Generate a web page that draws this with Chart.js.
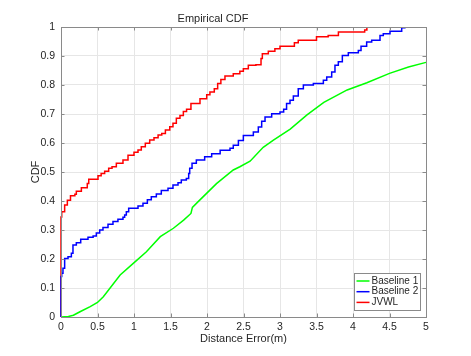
<!DOCTYPE html>
<html>
<head>
<meta charset="utf-8">
<script src="https://cdn.jsdelivr.net/npm/chart.js@4/dist/chart.umd.min.js"></script>
<style>
  html, body { margin: 0; padding: 0; background: #fff; }
  #cdf-chart { display: block; }
</style>
</head>
<body>
<canvas id="cdf-chart" width="471" height="356"></canvas>
<script>
/** Axis ticks */
const xTicks = [0, 0.5, 1, 1.5, 2, 2.5, 3, 3.5, 4, 4.5, 5];
const yTicks = [0, 0.1, 0.2, 0.3, 0.4, 0.5, 0.6, 0.7, 0.8, 0.9, 1];

/** Baseline 1 (green) */
const baseline1X = [0, 0.1, 0.17, 0.26, 0.4, 0.5, 0.58, 0.67, 0.81, 0.99, 1.17, 1.36, 1.54, 1.68, 1.78, 1.8, 1.9, 2.13, 2.36, 2.45, 2.59, 2.77, 2.91, 3.14, 3.37, 3.6, 3.92, 4.19, 4.5, 4.76, 5];
const baseline1Y = [0, 0.002, 0.006, 0.018, 0.036, 0.05, 0.07, 0.099, 0.145, 0.185, 0.225, 0.277, 0.306, 0.334, 0.357, 0.378, 0.403, 0.46, 0.507, 0.518, 0.537, 0.585, 0.61, 0.648, 0.697, 0.74, 0.783, 0.808, 0.84, 0.862, 0.878];

/** Baseline 2 (blue) step points */
const baseline2X = [0, 0, 0.01, 0.027, 0.05, 0.096, 0.142, 0.164, 0.21, 0.27, 0.37, 0.44, 0.484, 0.53, 0.575, 0.644, 0.712, 0.78, 0.849, 0.872, 0.895, 0.927, 1.055, 1.123, 1.183, 1.237, 1.306, 1.374, 1.466, 1.534, 1.603, 1.648, 1.717, 1.749, 1.763, 1.795, 1.854, 1.968, 2.064, 2.18, 2.315, 2.36, 2.43, 2.498, 2.635, 2.703, 2.749, 2.795, 2.886, 3.0, 3.05, 3.09, 3.137, 3.183, 3.25, 3.32, 3.457, 3.594, 3.64, 3.708, 3.753, 3.799, 3.854, 3.936, 4.073, 4.11, 4.187, 4.256, 4.37, 4.415, 4.507, 4.667, 4.71];
const baseline2Y = [0, 0.14, 0.151, 0.168, 0.202, 0.208, 0.22, 0.248, 0.256, 0.268, 0.275, 0.279, 0.29, 0.3, 0.309, 0.32, 0.329, 0.337, 0.344, 0.352, 0.363, 0.375, 0.383, 0.392, 0.404, 0.415, 0.424, 0.436, 0.444, 0.455, 0.463, 0.472, 0.478, 0.495, 0.513, 0.53, 0.541, 0.553, 0.563, 0.575, 0.582, 0.592, 0.609, 0.626, 0.638, 0.655, 0.675, 0.69, 0.701, 0.707, 0.716, 0.736, 0.747, 0.762, 0.787, 0.8, 0.805, 0.816, 0.828, 0.845, 0.868, 0.88, 0.902, 0.911, 0.919, 0.934, 0.948, 0.954, 0.971, 0.977, 0.985, 0.997, 1.0];

/** JVWL (red) step points */
const jvwlX = [0, 0, 0.01, 0.05, 0.087, 0.13, 0.19, 0.21, 0.279, 0.36, 0.38, 0.507, 0.55, 0.598, 0.653, 0.699, 0.758, 0.849, 0.918, 1.0, 1.055, 1.1, 1.155, 1.215, 1.274, 1.33, 1.38, 1.43, 1.49, 1.534, 1.58, 1.63, 1.676, 1.72, 1.78, 1.904, 1.996, 2.04, 2.1, 2.146, 2.19, 2.246, 2.36, 2.45, 2.498, 2.566, 2.67, 2.74, 2.758, 2.84, 2.93, 3.0, 3.197, 3.25, 3.5, 3.66, 3.8, 4.16, 4.19];
const jvwlY = [0, 0.345, 0.363, 0.386, 0.403, 0.418, 0.423, 0.434, 0.446, 0.46, 0.475, 0.487, 0.495, 0.503, 0.513, 0.518, 0.53, 0.541, 0.558, 0.568, 0.576, 0.587, 0.599, 0.61, 0.618, 0.628, 0.633, 0.645, 0.656, 0.668, 0.685, 0.695, 0.709, 0.716, 0.736, 0.753, 0.766, 0.776, 0.787, 0.805, 0.819, 0.831, 0.839, 0.847, 0.856, 0.868, 0.87, 0.891, 0.908, 0.916, 0.925, 0.934, 0.946, 0.954, 0.966, 0.971, 0.983, 0.99, 1.0];

const FONT = '"Liberation Sans", Arial, Helvetica, sans-serif';
const TEXT_COLOR = '#262626';
const AXIS_COLOR = '#8a8a8a';

const toPoints = (xs, ys) => xs.map((x, i) => ({x, y: ys[i]}));

/** Tick label like MATLAB prints it: 0, 0.5, 1 */
const tickLabel = (value) => String(Math.round(value * 10) / 10);

/** Box around the axes plus MATLAB-style inward ticks */
const axesBoxPlugin = {
  id: 'axesBox',
  afterDraw: (chart) => {
    const {ctx, chartArea: area, scales} = chart;
    const tickLen = 3.5;
    ctx.save();
    ctx.strokeStyle = AXIS_COLOR;
    ctx.lineWidth = 1;
    ctx.beginPath();
    xTicks.forEach(v => {
      const px = Math.round(scales.x.getPixelForValue(v)) + 0.5;
      ctx.moveTo(px, area.bottom);
      ctx.lineTo(px, area.bottom - tickLen);
      ctx.moveTo(px, area.top);
      ctx.lineTo(px, area.top + tickLen);
    });
    yTicks.forEach(v => {
      const py = Math.round(scales.y.getPixelForValue(v)) + 0.5;
      ctx.moveTo(area.left, py);
      ctx.lineTo(area.left + tickLen, py);
      ctx.moveTo(area.right, py);
      ctx.lineTo(area.right - tickLen, py);
    });
    ctx.stroke();
    ctx.strokeRect(Math.round(area.left) + 0.5, Math.round(area.top) + 0.5,
      Math.round(area.right - area.left), Math.round(area.bottom - area.top));
    ctx.restore();
  }
};

/** Legend box in the lower right corner of the axes */
const cornerLegendPlugin = {
  id: 'cornerLegend',
  afterDraw: (chart) => {
    const {ctx, chartArea: area} = chart;
    const boxW = 66;
    const boxH = 37;
    const left = Math.round(area.right - boxW - 6) + 0.5;
    const top = Math.round(area.bottom - boxH - 7) + 0.5;
    ctx.save();
    ctx.fillStyle = '#ffffff';
    ctx.fillRect(left, top, boxW, boxH);
    ctx.strokeStyle = AXIS_COLOR;
    ctx.lineWidth = 1;
    ctx.strokeRect(left, top, boxW, boxH);
    ctx.font = `10px ${FONT}`;
    ctx.textBaseline = 'middle';
    ctx.textAlign = 'left';
    chart.data.datasets.forEach((ds, i) => {
      const y = top + 7.5 + i * 10.7;
      ctx.strokeStyle = ds.borderColor;
      ctx.lineWidth = 1.5;
      ctx.beginPath();
      ctx.moveTo(left + 2, y);
      ctx.lineTo(left + 15, y);
      ctx.stroke();
      ctx.fillStyle = TEXT_COLOR;
      ctx.fillText(ds.label, left + 17, y);
    });
    ctx.restore();
  }
};

const createCdfChart = () => {
  const chart = document.getElementById('cdf-chart');

  new Chart(chart, {
    type: 'line',
    data: {
      datasets: [{
        label: 'Baseline 1',
        data: toPoints(baseline1X, baseline1Y),
        borderColor: '#00ff00',
        borderWidth: 1.5,
        pointRadius: 0,
        tension: 0,
        clip: 3,
      }, {
        label: 'Baseline 2',
        data: toPoints(baseline2X, baseline2Y),
        borderColor: '#0000ff',
        borderWidth: 1.5,
        pointRadius: 0,
        stepped: 'before',
        clip: 3,
      }, {
        label: 'JVWL',
        data: toPoints(jvwlX, jvwlY),
        borderColor: '#ff0000',
        borderWidth: 1.5,
        pointRadius: 0,
        stepped: 'before',
        clip: 3,
      }]
    },
    options: {
      responsive: false,
      animation: false,
      devicePixelRatio: 1,
      layout: {
        padding: {left: 0, right: 45, top: 0, bottom: 0}
      },
      scales: {
        x: {
          type: 'linear',
          min: 0,
          max: 5,
          afterBuildTicks: (scale) => {
            scale.ticks = xTicks.map(value => ({value}));
          },
          afterFit: (scale) => {
            scale.height = 39;
          },
          ticks: {
            color: TEXT_COLOR,
            font: {family: FONT, size: 10.5},
            padding: 4,
            maxRotation: 0,
            callback: (value) => tickLabel(value),
          },
          grid: {
            color: '#e6e6e6',
            drawTicks: false,
          },
          border: {display: false},
          title: {
            display: true,
            text: 'Distance Error(m)',
            color: TEXT_COLOR,
            font: {family: FONT, size: 11},
            padding: {top: 0, bottom: 10},
          },
        },
        y: {
          type: 'linear',
          min: 0,
          max: 1,
          afterBuildTicks: (scale) => {
            scale.ticks = yTicks.map(value => ({value}));
          },
          afterFit: (scale) => {
            scale.width = 61;
          },
          ticks: {
            color: TEXT_COLOR,
            font: {family: FONT, size: 10.5},
            padding: 6,
            callback: (value) => tickLabel(value),
          },
          grid: {
            color: '#e6e6e6',
            drawTicks: false,
          },
          border: {display: false},
          title: {
            display: true,
            text: 'CDF',
            color: TEXT_COLOR,
            font: {family: FONT, size: 11},
            padding: {top: 29, bottom: 0},
          },
        }
      },
      plugins: {
        legend: {display: false},
        tooltip: {enabled: false},
        title: {
          display: true,
          text: 'Empirical CDF',
          color: TEXT_COLOR,
          font: {family: FONT, size: 11, weight: 'normal'},
          padding: {top: 12, bottom: 1.8},
        }
      }
    },
    plugins: [axesBoxPlugin, cornerLegendPlugin]
  });
};

createCdfChart();
</script>
</body>
</html>
